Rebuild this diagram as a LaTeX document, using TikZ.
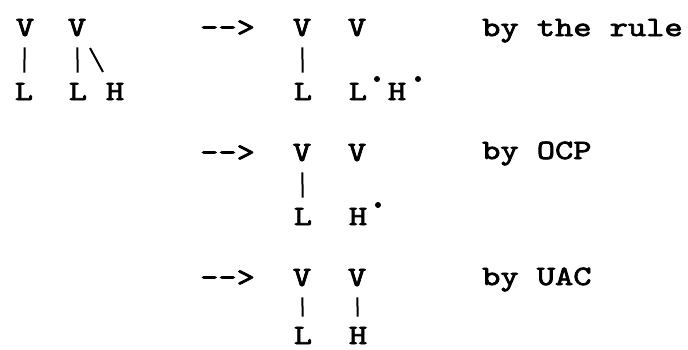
\documentclass[tikz,border=0pt]{standalone}
\usepackage{fontspec}
\newfontfamily\ttx[FakeStretch=1.24,FakeBold=2.6]{lmmono10-regular.otf}
\begin{document}
\begin{tikzpicture}[x=1pt,y=-1pt,
  tt/.style={font=\ttx\fontsize{28}{30}\selectfont, inner sep=0pt, anchor=base},
  assoc/.style={line width=2pt, shorten <=11pt, shorten >=10pt},
  dotmark/.style={circle, fill=black, inner sep=0pt, minimum size=6pt}]
\useasboundingbox (0,0) rectangle (688,349);
% row 1 left
\node[tt] (v1) at (25,36) {V};
\node[tt] (v2) at (77,36) {V};
\node[tt] (l1) at (24,100) {L};
\node[tt] (l2) at (78,100) {L};
\node[tt] (h1) at (115,100) {H};
\draw[assoc] (v1) -- (l1);
\draw[assoc] (v2) -- (l2);
\coordinate (bs1) at (90,48);
\coordinate (bs2) at (103,72);
\draw[line width=2pt] (bs1) -- (bs2);
\node[tt, anchor=base west] (a1) at (200,36) {-->};
% row 1 right
\node[tt] (rv1) at (302,36) {V};
\node[tt] (rv2) at (357,36) {V};
\node[tt] (rl1) at (303,100) {L};
\node[tt] (rl2) at (358,100) {L};
\node[tt] (rh2) at (397,100) {H};
\node[dotmark] (d1) at (377,79) {};
\node[dotmark] (d2) at (418,79) {};
\draw[assoc] (rv1) -- (rl1);
\node[tt, anchor=base west] (t1) at (482,36) {by the rule};
% row 2
\node[tt, anchor=base west] (a2) at (200,161) {-->};
\node[tt] (sv1) at (302,161) {V};
\node[tt] (sv2) at (357,161) {V};
\node[tt] (sl1) at (303,225) {L};
\node[tt] (sh2) at (358,225) {H};
\node[dotmark] (d3) at (378,205) {};
\draw[assoc] (sv1) -- (sl1);
\node[tt, anchor=base west] (t2) at (482,159) {by OCP};
% row 3
\node[tt, anchor=base west] (a3) at (200,286) {-->};
\node[tt] (uv1) at (302,286) {V};
\node[tt] (uv2) at (357,286) {V};
\node[tt] (ul1) at (303,344) {L};
\node[tt] (uh2) at (358,344) {H};
\draw[assoc] (uv1) -- (ul1);
\draw[assoc] (uv2) -- (uh2);
\node[tt, anchor=base west] (t3) at (482,285) {by UAC};
\end{tikzpicture}
\end{document}
